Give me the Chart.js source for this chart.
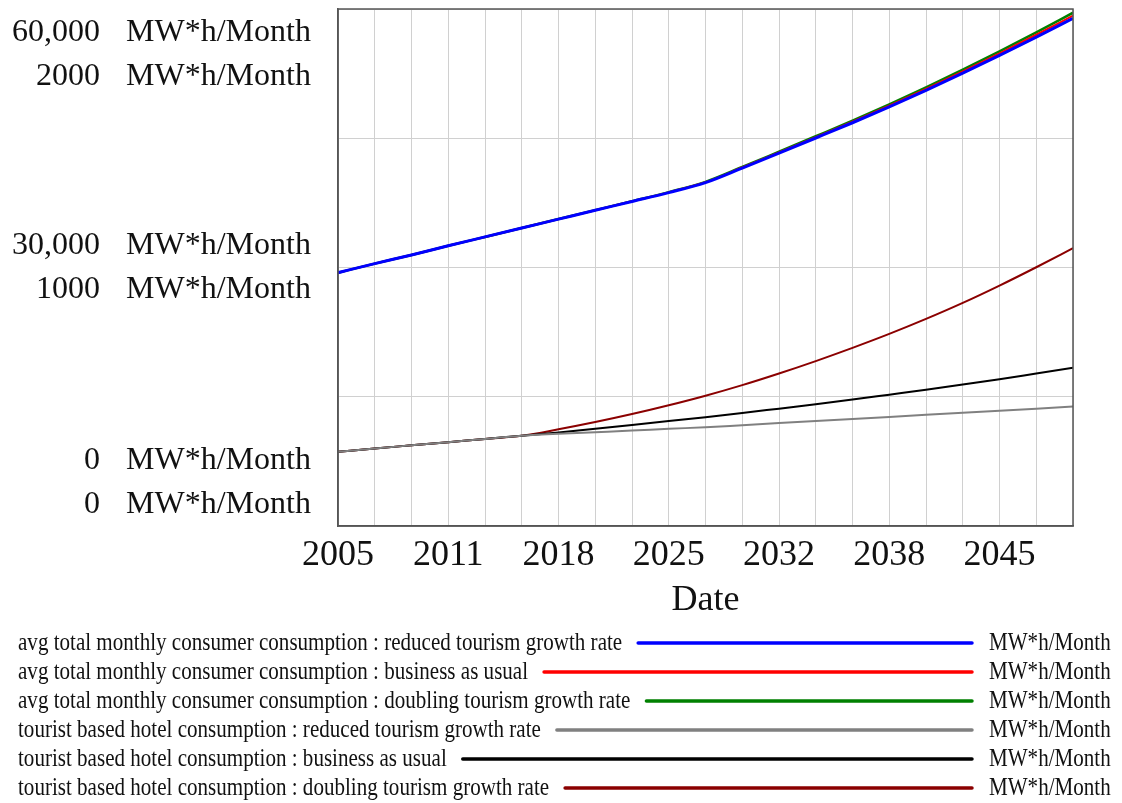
<!DOCTYPE html>
<html>
<head>
<meta charset="utf-8">
<script src="https://cdn.jsdelivr.net/npm/chart.js@4.4.1/dist/chart.umd.min.js"></script>
<style>
  html, body { margin: 0; padding: 0; background: #fff; }
</style>
</head>
<body>
<canvas id="chart" width="1122" height="803"></canvas>
<script>
// x positions: one point per vertical grid line (20 steps of 2.25 years)
const YEARS = [2005, 2007.25, 2009.5, 2011.75, 2014, 2016.25, 2018.5, 2020.75, 2023, 2025.25,
  2027.5, 2029.75, 2032, 2034.25, 2036.5, 2038.75, 2041, 2043.25, 2045.5, 2047.75, 2050];

// avg total monthly consumer consumption (left scale, 0 - 60,000)
const CONSUMER_REDUCED = [29400, 30450, 31450, 32520, 33550, 34580, 35610, 36640, 37660, 38690,
  39850, 41540, 43280, 45030, 46800, 48640, 50560, 52550, 54620, 56740, 58920];
const CONSUMER_BAU = [29400, 30450, 31450, 32520, 33550, 34580, 35615, 36650, 37680, 38720,
  39895, 41600, 43360, 45130, 46920, 48785, 50730, 52750, 54850, 57010, 59230];
const CONSUMER_DOUBLING = [29400, 30450, 31450, 32520, 33550, 34580, 35620, 36660, 37700, 38750,
  39940, 41660, 43440, 45230, 47040, 48930, 50900, 52950, 55080, 57280, 59570];

// tourist based hotel consumption (right scale, 0 - 2000)
const HOTEL_REDUCED = [287, 300, 312, 324, 337, 349, 357, 363, 369, 376,
  382, 390, 398, 406, 414, 422, 430, 438, 446, 454, 462];
const HOTEL_BAU = [287, 300, 312, 324, 337, 349, 362, 376, 391, 406,
  421, 437, 454, 471, 489, 508, 527, 547, 568, 590, 612];
const HOTEL_DOUBLING = [287, 300, 312, 324, 337, 349, 374, 402, 433, 467,
  504, 545, 590, 638, 689, 743, 801, 863, 930, 1001, 1075];

const LEFT_TICKS = [0, 30000, 60000];
const RIGHT_TICKS = [0, 1000, 2000];
const UNIT = "MW*h/Month";
const SERIF = "'Liberation Serif', 'Times New Roman', serif";

function points(values) {
  return values.map((v, i) => ({ x: YEARS[i], y: v }));
}

function series(label, values, color, width, axis) {
  return {
    label: label,
    data: points(values),
    borderColor: color,
    backgroundColor: color,
    borderWidth: width,
    pointRadius: 0,
    cubicInterpolationMode: "monotone",
    yAxisID: axis,
  };
}

// vensim prints both axes' labels stacked, nudged toward the middle of the plot
const NUDGE = [-65, -22, 24];
const axisLabels = {
  id: "axisLabels",
  afterDraw(chart) {
    const ctx = chart.ctx;
    const area = chart.chartArea;
    ctx.save();
    ctx.font = "32px " + SERIF;
    ctx.fillStyle = "#111";
    ctx.textBaseline = "middle";
    LEFT_TICKS.forEach((v, i) => {
      const y = chart.scales.y.getPixelForValue(v) + NUDGE[i];
      const rows = [[v.toLocaleString("en-US"), y], [String(RIGHT_TICKS[i]), y + 44]];
      rows.forEach(([txt, yy]) => {
        ctx.textAlign = "right";
        ctx.fillText(txt, area.left - 238, yy);
        ctx.textAlign = "left";
        ctx.fillText(UNIT, area.left - 212, yy);
      });
    });
    ctx.restore();
  },
};

const frame = {
  id: "frame",
  afterDatasetsDraw(chart) {
    const a = chart.chartArea;
    const ctx = chart.ctx;
    ctx.save();
    ctx.strokeStyle = "#555";
    ctx.lineWidth = 1.5;
    ctx.strokeRect(a.left, a.top, a.right - a.left, a.bottom - a.top);
    ctx.restore();
  },
};

// legend rows: label, long line sample, unit at the far right
const SQUEEZE = 0.81;
const bottomLegend = {
  id: "bottomLegend",
  afterDraw(chart) {
    const ctx = chart.ctx;
    const area = chart.chartArea;
    const top = area.bottom + 117;
    chart.data.datasets.forEach((ds, i) => {
      const y = top + i * 29;
      ctx.save();
      ctx.font = "26px " + SERIF;
      ctx.fillStyle = "#111";
      ctx.textBaseline = "middle";
      const w = ctx.measureText(ds.label).width * SQUEEZE;
      ctx.save();
      ctx.translate(18, y);
      ctx.scale(SQUEEZE, 1);
      ctx.fillText(ds.label, 0, 0);
      ctx.restore();

      ctx.strokeStyle = ds.borderColor;
      ctx.lineWidth = 3.5;
      ctx.lineCap = "round";
      ctx.beginPath();
      ctx.moveTo(18 + w + 16, y);
      ctx.lineTo(area.right - 101, y);
      ctx.stroke();

      ctx.translate(area.right - 84, y);
      ctx.scale(SQUEEZE, 1);
      ctx.fillText(UNIT, 0, 0);
      ctx.restore();
    });
  },
};

new Chart(document.getElementById("chart"), {
  type: "line",
  data: {
    datasets: [
      series("avg total monthly consumer consumption : reduced tourism growth rate", CONSUMER_REDUCED, "#0000ff", 3, "y"),
      series("avg total monthly consumer consumption : business as usual", CONSUMER_BAU, "#ff0000", 2, "y"),
      series("avg total monthly consumer consumption : doubling tourism growth rate", CONSUMER_DOUBLING, "#008000", 2.5, "y"),
      series("tourist based hotel consumption : reduced tourism growth rate", HOTEL_REDUCED, "#808080", 2, "y2"),
      series("tourist based hotel consumption : business as usual", HOTEL_BAU, "#000000", 2, "y2"),
      series("tourist based hotel consumption : doubling tourism growth rate", HOTEL_DOUBLING, "#8b0000", 2, "y2"),
    ],
  },
  options: {
    responsive: false,
    animation: false,
    layout: { padding: { left: 338, right: 49, top: 9, bottom: 177 } },
    plugins: {
      legend: { display: false },
      tooltip: { enabled: false },
    },
    scales: {
      x: {
        type: "linear",
        min: 2005,
        max: 2050,
        grid: { color: "#d0d0d0", drawTicks: false },
        border: { color: "#555", width: 1.5 },
        ticks: {
          stepSize: 2.25,
          autoSkip: false,
          maxRotation: 0,
          padding: 8,
          color: "#111",
          font: { family: SERIF, size: 36 },
          callback: (v, i) => (i % 3 === 0 ? String(Math.floor(v)) : ""),
        },
        title: {
          display: true,
          text: "Date",
          color: "#111",
          font: { family: SERIF, size: 36 },
          padding: { top: 0, bottom: 4 },
        },
        afterFit: (s) => { s.height = 100; },
      },
      y: {
        min: 0,
        max: 60000,
        grid: { color: "#d0d0d0", drawTicks: false },
        border: { color: "#555", width: 1.5 },
        ticks: { stepSize: 15000, display: false },
        afterFit: (s) => { s.width = 0; },
      },
      y2: {
        display: false,
        min: 0,
        max: 2000,
      },
    },
  },
  plugins: [frame, axisLabels, bottomLegend],
});
</script>
</body>
</html>
